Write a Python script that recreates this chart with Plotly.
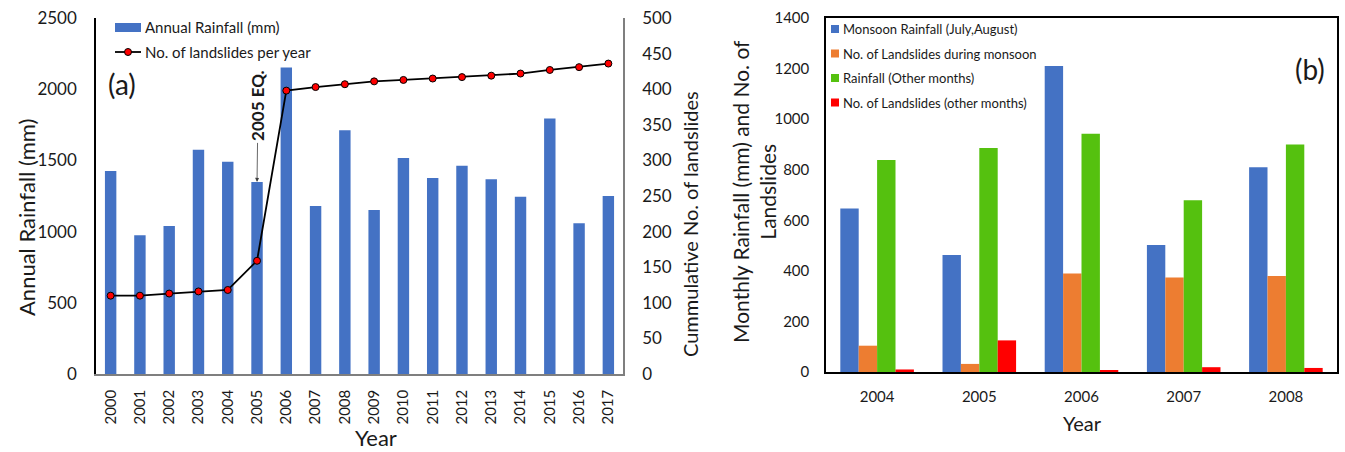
import plotly.graph_objects as go

# ---- data -------------------------------------------------------------
years = [str(y) for y in range(2000, 2018)]
annual_rainfall = [1425, 974, 1040, 1574, 1490, 1349, 2152, 1180, 1712,
                   1152, 1516, 1377, 1463, 1368, 1245, 1795, 1058, 1250]
cumulative_landslides = [110, 110, 113, 116, 118, 159, 398, 403, 407,
                         411, 413, 415, 417, 419, 422, 427, 431, 436]

season_years = ["2004", "2005", "2006", "2007", "2008"]
monsoon_rainfall = [647, 463, 1210, 502, 810]
monsoon_landslides = [104, 32, 390, 374, 380]
other_rainfall = [838, 886, 942, 679, 900]
other_landslides = [10, 125, 8, 19, 16]

left_legend = ["Annual Rainfall (mm)", "No. of landslides per year"]
right_legend = ["Monsoon Rainfall (July,August)",
                "No. of Landslides during monsoon",
                "Rainfall (Other months)",
                "No. of Landslides (other months)"]

# ---- styling ----------------------------------------------------------
W, H = 1345, 452
FONT = "Lato"
TXT = "#1a1a1a"
BLUE, ORANGE, GREEN, RED = "#4472C4", "#ED7D31", "#55C10F", "#FF0000"


def px(x):
    return x / W


def py(y):
    return 1 - y / H


def label(text, x, y, size, angle=0, xanchor="center"):
    """Free text placed in pixel coordinates of the page."""
    return dict(text=text, x=px(x), y=py(y), xref="paper", yref="paper",
                xanchor=xanchor, yanchor="middle", textangle=angle,
                showarrow=False, font=dict(size=size, color=TXT))


fig = go.Figure()

# panel (a): annual rainfall bars + cumulative landslides line
fig.add_trace(go.Bar(x=years, y=annual_rainfall, width=0.39,
                     marker=dict(color=BLUE, line=dict(width=0)),
                     xaxis="x", yaxis="y", showlegend=False))
fig.add_trace(go.Scatter(x=years, y=cumulative_landslides, mode="lines+markers",
                         line=dict(color="black", width=1.8),
                         marker=dict(color=RED, size=7, line=dict(color="black", width=1)),
                         xaxis="x", yaxis="y2", showlegend=False))

# panel (b): grouped seasonal bars
bw = 0.18
series_b = [(monsoon_rainfall, BLUE), (monsoon_landslides, ORANGE),
            (other_rainfall, GREEN), (other_landslides, RED)]
for i, (vals, col) in enumerate(series_b):
    fig.add_trace(go.Bar(x=season_years, y=vals, width=bw, offset=-2 * bw + i * bw,
                         marker=dict(color=col, line=dict(width=0)),
                         xaxis="x3", yaxis="y3", showlegend=False))

tickfont = dict(family=FONT, size=17, color=TXT)
common = dict(automargin=False, showgrid=False, zeroline=False, ticks="")

fig.update_layout(
    width=W, height=H,
    margin=dict(l=0, r=0, t=0, b=0, autoexpand=False),
    paper_bgcolor="white", plot_bgcolor="white",
    barmode="overlay",
    font=dict(family=FONT, color=TXT),
    xaxis=dict(domain=[px(96), px(623)], anchor="y", type="category",
               range=[-0.5, 17.5], tickangle=-90,
               tickfont=dict(family=FONT, size=15, color=TXT),
               showline=True, linecolor="#7f7f7f", linewidth=1.5,
               ticklabelstandoff=8, **common),
    yaxis=dict(domain=[py(374), py(18)], anchor="x", range=[0, 2500], dtick=500,
               tickfont=tickfont, showline=True, linecolor="black", linewidth=1.5,
               ticklabelstandoff=14, **common),
    yaxis2=dict(overlaying="y", side="right", anchor="x", range=[0, 500], dtick=50,
                tickfont=tickfont, showline=True, linecolor="#7f7f7f", linewidth=1.5,
                ticklabelstandoff=14, **common),
    xaxis3=dict(domain=[px(826), px(1337)], anchor="y3", type="category",
                range=[-0.5, 4.5],
                tickfont=dict(family=FONT, size=15, color=TXT),
                showline=True, mirror=True, linecolor="black", linewidth=1.5,
                ticklabelstandoff=10, **common),
    yaxis3=dict(domain=[py(372), py(18)], anchor="x3", range=[0, 1400], dtick=200,
                tickfont=dict(family=FONT, size=15, color=TXT),
                showline=True, mirror=True, linecolor="black", linewidth=1.5,
                ticklabelstandoff=12, **common),
)

ann = []
shapes = []

# axis titles
ann.append(label("Annual Rainfall (mm)", 26, 218, 22, angle=-90))
ann.append(label("Cummulative No. of landslides", 690, 224, 20, angle=-90))
ann.append(label("Year", 376, 437, 22))
ann.append(label("Monthly Rainfall (mm) and No. of<br>Landslides", 754, 192, 21, angle=-90))
ann.append(label("Year", 1082, 423, 20))

# panel labels
ann.append(label("(a)", 122, 84, 28))
ann.append(label("(b)", 1310, 69, 28))

# earthquake marker
eq_idx = years.index("2005")
ann.append(dict(text="<b>2005 EQ.</b>", x=eq_idx, y=annual_rainfall[eq_idx],
                xref="x", yref="y", ax=1, ay=-76, textangle=-90,
                showarrow=True, arrowhead=2, arrowsize=1, arrowwidth=0.8,
                arrowcolor="#404040", font=dict(size=17, color=TXT)))

# legend for panel (a)
shapes.append(dict(type="rect", xref="paper", yref="paper",
                   x0=px(115), x1=px(141), y0=py(32), y1=py(23),
                   fillcolor=BLUE, line=dict(width=0)))
ann.append(label(left_legend[0], 143, 27, 15, xanchor="left"))
shapes.append(dict(type="line", xref="paper", yref="paper",
                   x0=px(115), x1=px(141), y0=py(52), y1=py(52),
                   line=dict(color="black", width=1.8)))
shapes.append(dict(type="circle", xref="paper", yref="paper",
                   x0=px(124.5), x1=px(131.5), y0=py(55.5), y1=py(48.5),
                   fillcolor=RED, line=dict(color="black", width=1)))
ann.append(label(left_legend[1], 143, 52, 15, xanchor="left"))

# legend for panel (b)
leg_y = [29, 53.5, 78, 102.5]
for (vals, col), text, yy in zip(series_b, right_legend, leg_y):
    shapes.append(dict(type="rect", xref="paper", yref="paper",
                       x0=px(831), x1=px(839), y0=py(yy + 4), y1=py(yy - 4),
                       fillcolor=col, line=dict(width=0)))
    ann.append(label(text, 841, yy, 13, xanchor="left"))

fig.update_layout(annotations=ann, shapes=shapes)

fig.write_html("out.html")
